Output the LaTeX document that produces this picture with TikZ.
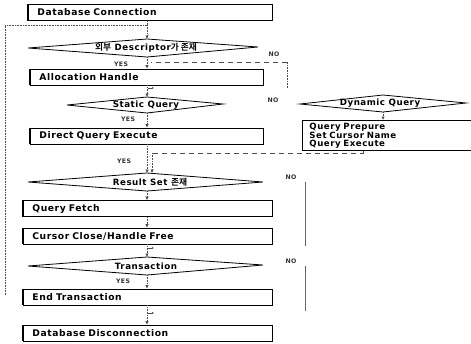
\documentclass[tikz,border=0pt]{standalone}
\usepackage{fontspec}
\setmainfont{DejaVu Sans}[LetterSpace=6]
\newfontfamily\kr{Noto Sans CJK KR}[BoldFont=* Bold]
\usetikzlibrary{arrows.meta}
\begin{document}
\begin{tikzpicture}[x=1pt,y=-1pt,
  box/.style={draw=black, line width=0.9pt, minimum height=16pt, inner xsep=9pt,
    inner ysep=0pt, anchor=west, align=left, text width=#1,
    font=\fontsize{9.2}{9.5}\bfseries},
  multibox/.style={draw=black, line width=0.9pt, inner xsep=7pt, inner ysep=2.5pt,
    anchor=north west, align=left, text width=#1,
    font=\fontsize{8.6}{7.9}\bfseries},
  dia/.style={draw=black, line width=0.8pt},
  dtext/.style={font=\fontsize{8.7}{9.5}\bfseries, inner sep=1pt},
  lbl/.style={font=\fontsize{6.2}{6.5}\bfseries, inner sep=0pt, text=black!80},
  arr/.style={densely dotted, line width=0.6pt, black!70, -{Latex[length=3.5pt,width=3.5pt]}},
  dline/.style={dashed, dash pattern=on 5pt off 4pt, line width=0.6pt, black!70},
  vline/.style={line width=0.9pt, black!60}]
\useasboundingbox (0,0) rectangle (471,343);

% main column
\node[box=226pt] (conn)  at (28,12.5) {Database Connection};
\node[box=215pt] (alloc) at (30,77)   {Allocation Handle};
\node[box=215pt] (direct) at (30,136) {Direct Query Execute};
\node[box=231pt] (fetch) at (23,208.5) {Query Fetch};
\node[box=231pt] (close) at (23,236)  {Cursor Close/Handle Free};
\node[box=231pt] (endtr) at (23,297)  {End Transaction};
\node[box=231pt] (disc)  at (23,333)  {Database Disconnection};

% heavier left edges of the boxes
\foreach \b in {conn,alloc,direct,fetch,close,endtr,disc}
  \draw[line width=1.6pt] (\b.north west) -- (\b.south west);

% decisions
\coordinate (d1n) at (147,39);  \coordinate (d1s) at (147,57);
\coordinate (d1w) at (28,48);   \coordinate (d1e) at (258,47);
\draw[dia] (d1w) -- (d1n) -- (d1e) -- (d1s) -- cycle;
\node[dtext] (d1) at (146,48) {{\kr 외부} Descriptor{\kr 가 존재}};

\coordinate (d2n) at (147,97);  \coordinate (d2s) at (147,113);
\coordinate (d2w) at (67,105);  \coordinate (d2e) at (223,104);
\draw[dia] (d2w) -- (d2n) -- (d2e) -- (d2s) -- cycle;
\node[dtext] (d2) at (146,105) {Static Query};

\coordinate (d3n) at (147,173); \coordinate (d3s) at (147,191);
\coordinate (d3w) at (28,182);  \coordinate (d3e) at (263,182);
\draw[dia] (d3w) -- (d3n) -- (d3e) -- (d3s) -- cycle;
\node[dtext] (d3) at (150,182) {Result Set {\kr 존재}};

\coordinate (d4n) at (147,257); \coordinate (d4s) at (147,275);
\coordinate (d4w) at (28,266);  \coordinate (d4e) at (263,265);
\draw[dia] (d4w) -- (d4n) -- (d4e) -- (d4s) -- cycle;
\node[dtext] (d4) at (146,266) {Transaction};

\coordinate (d5n) at (383,95);  \coordinate (d5s) at (383,112);
\coordinate (d5w) at (300,104); \coordinate (d5e) at (466,103);
\draw[dia] (d5w) -- (d5n) -- (d5e) -- (d5s) -- cycle;
\node[dtext] (d5) at (380,103) {Dynamic Query};

% dynamic query branch
\node[multibox=155pt] (dyn) at (302,120)
  {Query Prepure\\Set Cursor Name\\Query Execute};

% connectors of the main column
\coordinate (loopb) at (5,295);
\coordinate (loopt) at (5,25);
\coordinate (loopc) at (147,25);
\draw[densely dotted, line width=0.6pt, black!70] (loopb) -- (loopt) -- (loopc);
\draw[arr] (loopc) -- (d1n);
\draw[densely dotted, line width=0.6pt, black!70] (conn.south -| d1n) -- (loopc);
\draw[arr] (d1s) -- (alloc.north -| d1s);
\draw[arr] (alloc.south -| d2n) -- (d2n);
\draw[arr] (d2s) -- (direct.north -| d2s);
\draw[arr] (direct.south -| d3n) -- (d3n);
\draw[arr] (d3s) -- (fetch.north -| d3s);
\draw[arr] (fetch.south -| d3s) -- (close.north -| d3s);
\draw[arr] (close.south -| d4n) -- (d4n);
\draw[arr] (d4s) -- (endtr.north -| d4s);
\draw[arr] (endtr.south -| d4s) -- (disc.north -| d4s);

% small ticks beside some arrows
\draw[line width=0.5pt, black!70, -{Latex[length=2pt,width=2pt]}] (148,88) -- (154,88);
\draw[line width=0.5pt, black!70, -{Latex[length=2pt,width=2pt]}] (148,248) -- (154,248);
\draw[line width=0.5pt, black!70, -{Latex[length=2pt,width=2pt]}] (148,313) -- (154,313);

% NO path of the first decision
\coordinate (n1a) at (287,62);
\coordinate (n1b) at (287,88);
\coordinate (n1c) at (151,62);
\draw[densely dotted, line width=0.6pt, black!70] (n1b) -- (n1a);
\draw[dline] (n1a) -- (n1c);

% dynamic query connectors
\draw[arr] (d5s) -- (dyn.north -| d5s);
\coordinate (dj1) at (363,153);
\coordinate (dj2) at (152,153);
\draw[dline] (dyn.south -| dj1) -- (dj1) -- (dj2);
\draw[arr] (dj2) -- (152,173);

% NO lines on the right
\coordinate (n3a) at (305,182); \coordinate (n3b) at (305,246);
\draw[vline] (n3a) -- (n3b);
\coordinate (n4a) at (305,266); \coordinate (n4b) at (305,311);
\draw[vline] (n4a) -- (n4b);

% branch labels
\node[lbl] (y1) at (121,64)  {YES};
\node[lbl] (y2) at (128,119) {YES};
\node[lbl] (y3) at (124,161) {YES};
\node[lbl] (y4) at (123,281) {YES};
\node[lbl] (no1) at (274,54)  {NO};
\node[lbl] (no2) at (273,100) {NO};
\node[lbl] (no3) at (291,177) {NO};
\node[lbl] (no4) at (291,261) {NO};
\end{tikzpicture}
\end{document}
